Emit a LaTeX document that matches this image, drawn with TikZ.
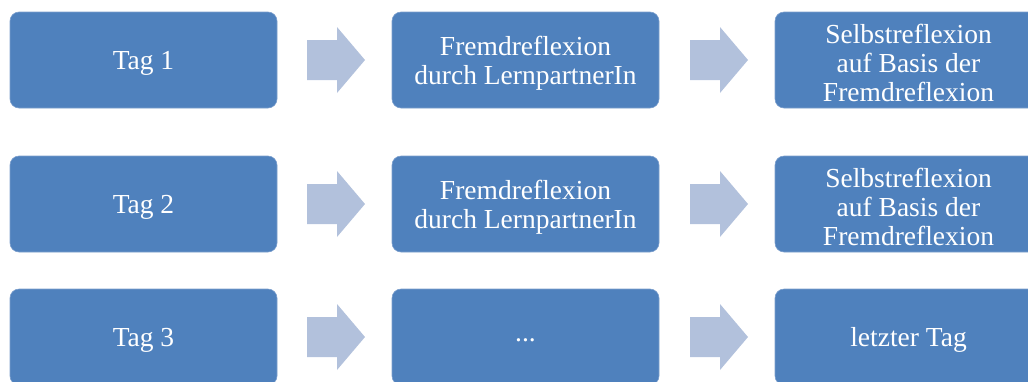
\documentclass[tikz,border=0pt]{standalone}
\usepackage{fontspec}
\setmainfont{Liberation Serif}
\definecolor{boxblue}{HTML}{4F81BD}
\definecolor{boxedge}{HTML}{7C9FCD}
\definecolor{arrowblue}{HTML}{B2C1DC}
\tikzset{
  stepbox/.style={rectangle, rounded corners=9pt, fill=boxblue, draw=boxedge, line width=0.6pt,
    minimum width=267pt, minimum height=96pt, inner sep=0pt},
  boxtext/.style={text=white, align=center, font=\fontsize{27.5}{29}\selectfont, inner sep=0pt, yshift=-3pt},
  blockarrow/.pic={\fill[arrowblue] (0,-20) -- (30,-20) -- (30,-33) -- (58,0) -- (30,33) -- (30,20) -- (0,20) -- cycle;}
}
\begin{document}
\begin{tikzpicture}[x=1pt,y=-1pt]
\useasboundingbox (0,0) rectangle (1028,381);
\begin{scope}
\clip (0,0) rectangle (1028,381);
\node[stepbox, label={[boxtext]center:Tag 1}] (a1) at (143.5,60) {};
\node[stepbox, label={[boxtext]center:{Fremdreflexion\\durch LernpartnerIn}}] (b1) at (525.5,60) {};
\node[stepbox, label={[boxtext]center:{Selbstreflexion\\auf Basis der\\Fremdreflexion}}] (c1) at (908.5,60) {};
\node[stepbox, label={[boxtext]center:Tag 2}] (a2) at (143.5,204) {};
\node[stepbox, label={[boxtext]center:{Fremdreflexion\\durch LernpartnerIn}}] (b2) at (525.5,204) {};
\node[stepbox, label={[boxtext]center:{Selbstreflexion\\auf Basis der\\Fremdreflexion}}] (c2) at (908.5,204) {};
\node[stepbox, label={[boxtext]center:Tag 3}] (a3) at (143.5,337) {};
\node[stepbox, label={[boxtext]center:{...}}] (b3) at (525.5,337) {};
\node[stepbox, label={[boxtext]center:letzter Tag}] (c3) at (908.5,337) {};
\end{scope}
\pic at (307,60) {blockarrow};
\pic at (690,60) {blockarrow};
\pic at (307,204) {blockarrow};
\pic at (690,204) {blockarrow};
\pic at (307,337) {blockarrow};
\pic at (690,337) {blockarrow};
\end{tikzpicture}
\end{document}
